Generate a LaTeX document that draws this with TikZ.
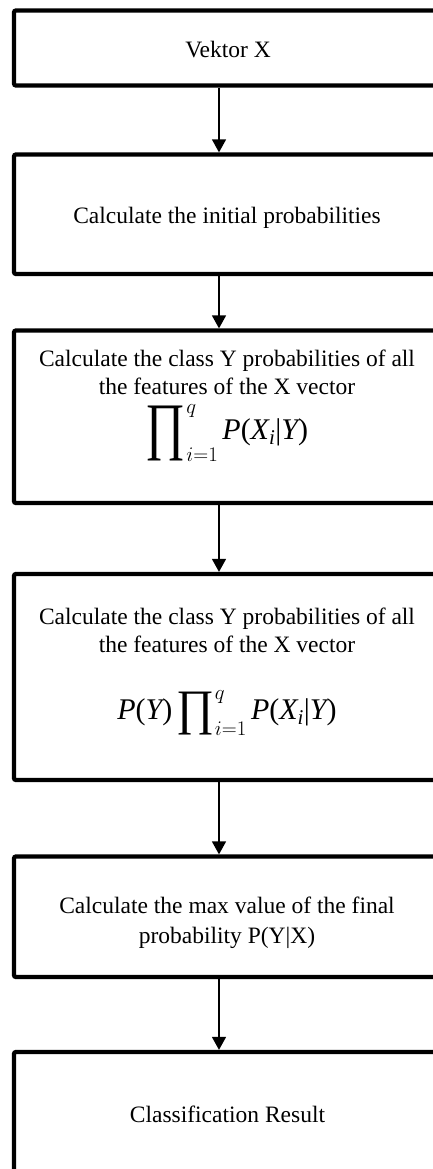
\documentclass[tikz,border=0pt]{standalone}
\usepackage{fontspec}
\setmainfont{Liberation Serif}
\usepackage{graphicx}
\usetikzlibrary{arrows.meta}
\newcommand{\BigProd}[2]{\mathop{\vcenter{\hbox{\resizebox*{#1}{#2}{∏}\kern0.5pt}}}\nolimits}
\newcommand{\fsize}{\fontsize{30}{32}\selectfont}
\newcommand{\lpar}{\mbox{(}}
\newcommand{\rpar}{\mbox{)}}
\newcommand{\vbar}{\mbox{|}}
\tikzset{
  stepbox/.style={draw, line width=4.3pt, rounded corners=2pt, minimum width=426pt, inner sep=0pt},
  txt/.style={inner sep=0pt, align=center, font=\fontsize{23.5}{28}\selectfont},
  flow/.style={line width=1.5pt, -{Triangle[width=14pt,length=13pt]}}
}
\begin{document}
\begin{tikzpicture}[x=1pt,y=-1pt]
\useasboundingbox (0,0) rectangle (433,1169);
\clip (0,0) rectangle (433,1169);
% boxes
\node[stepbox, minimum height=75pt]    (b1) at (227,48) {};
\node[stepbox, minimum height=119.5pt] (b2) at (227,214.25) {};
\node[stepbox, minimum height=172.5pt] (b3) at (227,416.75) {};
\node[stepbox, minimum height=206pt]   (b4) at (227,677) {};
\node[stepbox, minimum height=120.5pt] (b5) at (227,916.75) {};
\node[stepbox, minimum height=126pt]   (b6) at (227,1115) {};
% texts
\node[txt, anchor=base] (t1) at (228,58) {Vektor X};
\node[txt, anchor=base] (t2) at (227,223) {Calculate the initial probabilities};
\node[txt, anchor=north] (t3) at (227,350) {Calculate the class Y probabilities of all\\
  the features of the X vector\\[9pt]
  {\fsize$\BigProd{40pt}{55pt}_{i=1}^{q} \mathit{P}\lpar\mathit{X}_{\mathit{i}}\vbar\mathit{Y}\rpar$}};
\node[txt, anchor=north] (t4) at (227,608) {Calculate the class Y probabilities of all\\
  the features of the X vector\\[37pt]
  {\fsize$\mathit{P}\lpar\mathit{Y}\rpar\BigProd{38pt}{43pt}_{i=1}^{q} \mathit{P}\lpar\mathit{X}_{\mathit{i}}\vbar\mathit{Y}\rpar$}};
\node[txt, anchor=north] (t5) at (227,897) {Calculate the max value of the final\\[2pt]
  probability P(Y|X)};
\node[txt, anchor=base] (t6) at (227.5,1122) {Classification Result};
% arrows
\draw[flow] ([xshift=-8pt]b1.south) -- ([xshift=-8pt]b2.north);
\draw[flow] ([xshift=-8pt]b2.south) -- ([xshift=-8pt]b3.north);
\draw[flow] ([xshift=-8pt]b3.south) -- ([xshift=-8pt]b4.north);
\draw[flow] ([xshift=-8pt]b4.south) -- ([xshift=-8pt]b5.north);
\draw[flow] ([xshift=-8pt]b5.south) -- ([xshift=-8pt]b6.north);
\end{tikzpicture}
\end{document}
